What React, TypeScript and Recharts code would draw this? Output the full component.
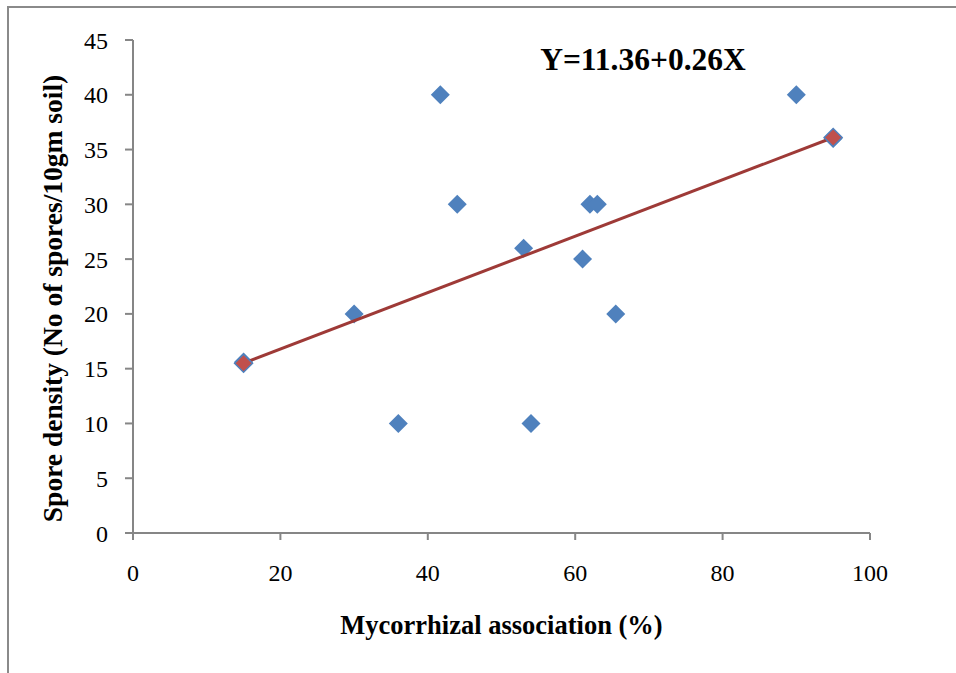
import React from 'react';
import { ScatterChart, Scatter, XAxis, YAxis, Label, ReferenceDot } from 'recharts';

const mycorrhizal = [15, 30, 36, 41.7, 44, 53, 54, 61, 62, 63, 65.5, 90, 95];
const sporeDensity = [15.6, 20, 10, 40, 30, 26, 10, 25, 30, 30, 20, 40, 36];
const trendX = [15, 95];
const trendY = [15.5, 36.1];
const xTicks = [0, 20, 40, 60, 80, 100];
const yTicks = [0, 5, 10, 15, 20, 25, 30, 35, 40, 45];
const equation = 'Y=11.36+0.26X';

const points = mycorrhizal.map((x, i) => ({ x, y: sporeDensity[i] }));
const trend = trendX.map((x, i) => ({ x, y: trendY[i] }));

const FONT = "'Liberation Serif', 'Times New Roman', serif";
const AXIS = '#868686';

const Diamond = (props: any) => {
  const { cx, cy } = props;
  const h = 9.5;
  return (
    <polygon
      points={`${cx},${cy - h} ${cx + h},${cy} ${cx},${cy + h} ${cx - h},${cy}`}
      fill="#4F81BD"
    />
  );
};

const TrendDiamond = (props: any) => {
  const { cx, cy } = props;
  const h = 9;
  return (
    <polygon
      points={`${cx},${cy - h} ${cx + h},${cy} ${cx},${cy + h} ${cx - h},${cy}`}
      fill="#C0504D"
      stroke="#4F81BD"
      strokeWidth={1.5}
    />
  );
};

export default function App() {
  return (
    <div style={{ position: 'absolute', left: 0, top: 0, width: 956, height: 673, background: '#fff', overflow: 'hidden' }}>
      <div
        style={{
          position: 'absolute',
          left: 7,
          top: 6,
          width: 980,
          height: 700,
          borderLeft: '2px solid #8a8a8a',
          borderTop: '2px solid #8a8a8a',
        }}
      />
      <div style={{ position: 'absolute', left: 0, top: 0 }}>
        <ScatterChart width={956} height={673} margin={{ top: 40, right: 86, bottom: 0, left: 0 }}>
          <XAxis
            type="number"
            dataKey="x"
            domain={[0, 100]}
            ticks={xTicks}
            height={140}
            stroke={AXIS}
            strokeWidth={2}
            tickSize={7}
            tickMargin={24}
            tick={{ fill: '#000', fontSize: 24, fontFamily: FONT }}
            tickLine={{ stroke: AXIS, strokeWidth: 2 }}
            interval={0}
          >
            <Label
              value="Mycorrhizal association (%)"
              position="center"
              dy={22}
              style={{ fontSize: 26.5, fontWeight: 'bold', fontFamily: FONT, fill: '#000' }}
            />
          </XAxis>
          <YAxis
            type="number"
            dataKey="y"
            domain={[0, 45]}
            ticks={yTicks}
            width={133}
            stroke={AXIS}
            strokeWidth={2}
            tickSize={8}
            tickMargin={17}
            tick={{ fill: '#000', fontSize: 24, fontFamily: FONT }}
            tickLine={{ stroke: AXIS, strokeWidth: 2 }}
            interval={0}
          >
            <Label
              value="Spore density (No of spores/10gm soil)"
              position="center"
              angle={-90}
              dx={-14}
              dy={12}
              style={{ fontSize: 27.5, fontWeight: 'bold', fontFamily: FONT, fill: '#000', textAnchor: 'middle' }}
            />
          </YAxis>
          <Scatter data={points} shape={Diamond} isAnimationActive={false} />
          <Scatter
            data={trend}
            shape={TrendDiamond}
            line={{ stroke: '#9E3A37', strokeWidth: 3 }}
            lineType="joint"
            isAnimationActive={false}
          />
          <ReferenceDot
            x={69.2}
            y={43.3}
            r={0}
            fill="none"
            stroke="none"
            label={{
              value: equation,
              position: 'center',
              fontSize: 31.5,
              fontWeight: 'bold',
              fontFamily: FONT,
              fill: '#000',
            }}
          />
        </ScatterChart>
      </div>
    </div>
  );
}
